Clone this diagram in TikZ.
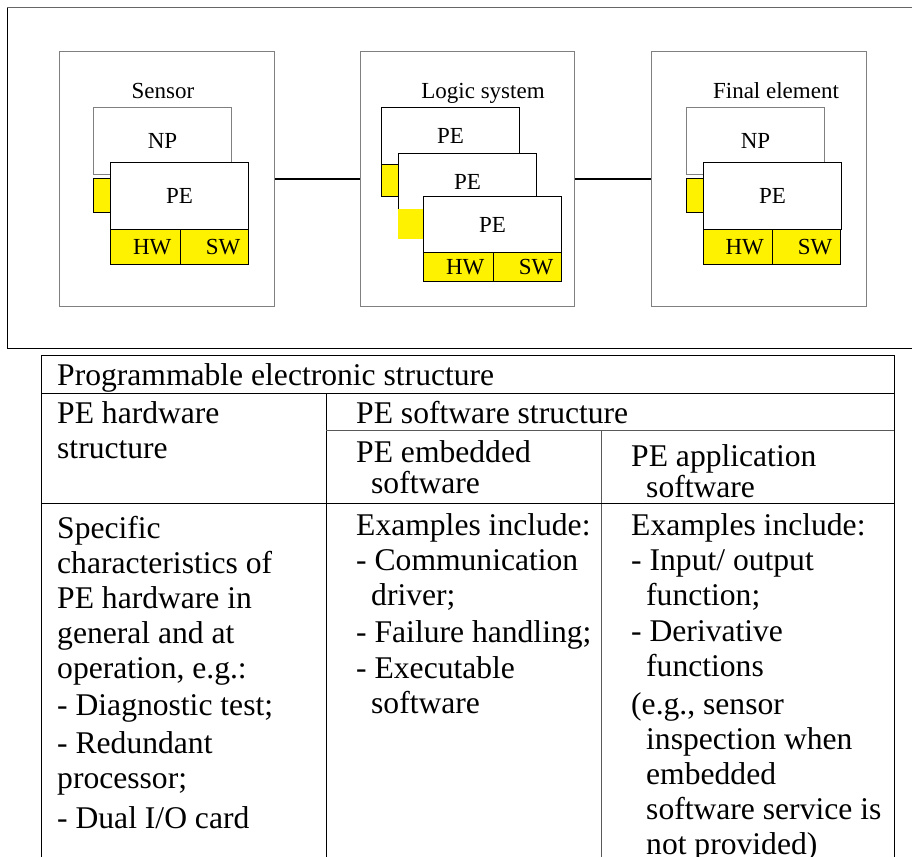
\documentclass[tikz,border=0pt]{standalone}
\usepackage{fontspec}
\setmainfont{Liberation Serif}
\newcommand{\lblfont}{\fontsize{23}{27}\selectfont}
\newcommand{\cellfont}{\fontsize{31.6}{35}\selectfont}
\begin{document}
\begin{tikzpicture}[x=1pt, y=-1pt,
  unit/.style = {draw=gray, line width=1pt, minimum width=215pt,
    minimum height=255pt, anchor=north west, inner sep=0},
  npbox/.style = {draw=gray, fill=white, line width=1pt, inner sep=0,
    minimum width=138pt, anchor=north west, font=\lblfont},
  pebox/.style = {npbox, draw=black},
  ybox/.style = {fill=yellow, inner sep=0, anchor=north west},
  hwsw/.style = {ybox, draw=black, line width=0.8pt, text width=52pt,
    align=right, inner xsep=8pt, font=\lblfont},
  lbl/.style = {font=\lblfont, anchor=base, inner sep=0},
  cell/.style = {font=\cellfont, align=left, anchor=base west, inner sep=0},
  link/.style = {line width=2.8pt},
  grid/.style = {line width=1pt}]
  \useasboundingbox (0,0) rectangle (912,856);
  \draw[gray!80!black, line width=1pt] (912,8) -- (7,8);
  \draw[line width=1pt] (7,8) -- (7,348) -- (912,348);

  \node[unit] (sensor) at (59,51) {};
  \node[lbl] (slbl) at (163,99) {Sensor};
  \node[npbox, minimum height=67pt] (snp) at (93,107) {NP};
  \node[ybox, draw=black, line width=0.8pt, minimum width=17pt,
    minimum height=34pt] (sy) at (93,178) {};
  \node[pebox, minimum height=67pt] (spe) at (110,162) {PE};
  \node[hwsw, minimum width=70pt, minimum height=35pt] (shw) at (110,229) {HW};
  \node[hwsw, minimum width=68pt, minimum height=35pt] (ssw) at (180,229) {SW};

  \node[unit, minimum width=214pt] (logic) at (360,51) {};
  \node[lbl] (llbl) at (483,99) {Logic system};
  \node[pebox, minimum height=57pt] (lpea) at (381,107) {PE};
  \node[ybox, draw=black, line width=0.6pt, minimum width=17pt,
    minimum height=32pt] (lya) at (381,164) {};
  \node[pebox, minimum height=57pt] (lpeb) at (398,153) {PE};
  \node[ybox, minimum width=25pt, minimum height=30pt] (lyb) at (398,209) {};
  \node[pebox, minimum height=56pt] (lpec) at (423,196) {PE};
  \node[hwsw, minimum width=70pt, minimum height=29pt] (lhw) at (423,252) {HW};
  \node[hwsw, minimum width=68pt, minimum height=29pt] (lsw) at (493,252) {SW};

  \node[unit] (final) at (651,51) {};
  \node[lbl] (flbl) at (776,99) {Final element};
  \node[npbox, minimum height=67pt] (fnp) at (686,107) {NP};
  \node[ybox, draw=black, line width=0.8pt, minimum width=17pt,
    minimum height=34pt] (fy) at (686,178) {};
  \node[pebox, minimum height=67pt] (fpe) at (703,162) {PE};
  \node[hwsw, minimum width=69pt, minimum height=35pt] (fhw) at (703,229) {HW};
  \node[hwsw, minimum width=68pt, minimum height=35pt] (fsw) at (772,229) {SW};

  \draw[link] (sensor.east) -- (logic.west);
  \draw[link] (logic.east) -- (final.west);

  \draw[grid] (41,860) -- (41,355) -- (894,355) -- (894,860);
  \draw[grid] (41,393) -- (894,393);
  \draw[grid] (326,393) -- (326,860);
  \draw[grid, gray!70!black] (326,430) -- (894,430);
  \draw[grid, gray!70!black] (601,430) -- (601,860);
  \draw[grid] (41,503) -- (894,503);

  \node[cell] (title) at (57,385) {Programmable electronic structure};
  \node[cell] (hwhead) at (57,458) {PE hardware\\structure};
  \node[cell] (swhead) at (356,423) {PE software structure};
  \node[cell] (embhead) at (356,493) {PE embedded\\[-4pt]\hspace*{15pt}software};
  \node[cell] (apphead) at (631,497) {PE application\\[-4pt]\hspace*{15pt}software};
  \node[cell] (hwbody) at (57,828) {Specific\\characteristics of\\PE hardware in\\
    general and at\\operation, e.g.:\\[2pt]- Diagnostic test;\\[3pt]- Redundant\\
    processor;\\[5pt]- Dual I/O card};
  \node[cell] (embbody) at (356,713) {Examples include:\\- Communication\\
    \hspace*{15pt}driver;\\[2pt]- Failure handling;\\[1pt]- Executable\\
    \hspace*{15pt}software};
  \node[cell] (appbody) at (631,854) {Examples include:\\- Input/ output\\
    \hspace*{15pt}function;\\[1pt]- Derivative\\\hspace*{15pt}functions\\[3pt]
    (e.g., sensor\\\hspace*{15pt}inspection when\\\hspace*{15pt}embedded\\
    \hspace*{15pt}software service is\\\hspace*{15pt}not provided)};
\end{tikzpicture}
\end{document}
